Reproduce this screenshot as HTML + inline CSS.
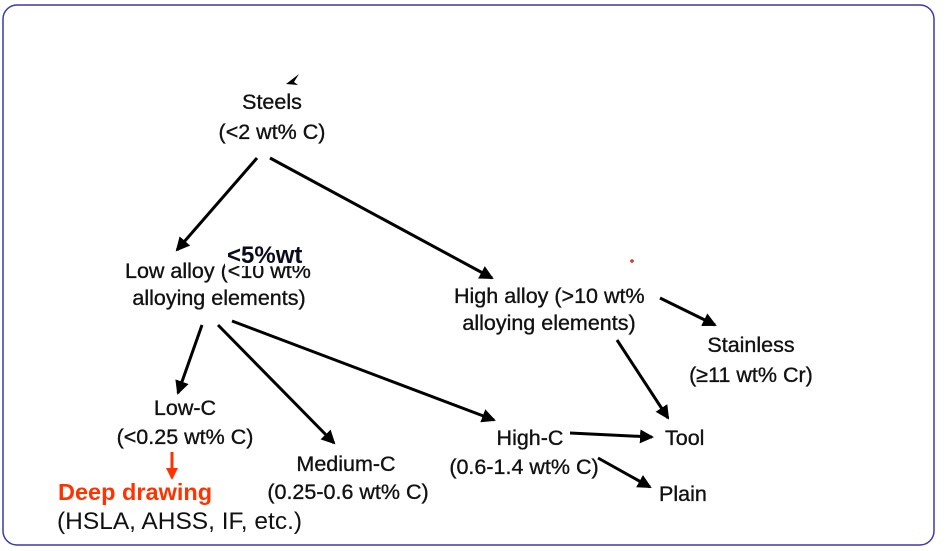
<!DOCTYPE html>
<html><head><meta charset="utf-8"><style>
html,body{margin:0;padding:0;background:#fff;}
svg{display:block;}
text{font-family:"Liberation Sans",Arial,sans-serif;font-size:21.5px;fill:#111;stroke:#111;stroke-width:0.35;}
</style></head><body>
<svg width="949" height="551" viewBox="0 0 949 551" xmlns="http://www.w3.org/2000/svg">
<defs>
<marker id="a" markerWidth="14" markerHeight="14" refX="12" refY="7" orient="auto" markerUnits="userSpaceOnUse" viewBox="0 0 14 14">
<path d="M0,0 L14,7 L0,14 z" fill="#000"/></marker>
<marker id="r" markerWidth="12" markerHeight="12" refX="10" refY="6" orient="auto" markerUnits="userSpaceOnUse" viewBox="0 0 12 12">
<path d="M0,0 L12,6 L0,12 z" fill="#ff3300"/></marker>
</defs>
<rect x="3" y="5" width="931" height="540" rx="14" fill="none" stroke="#3a3aa8" stroke-width="1.5"/>
<g stroke="#000" stroke-width="3" fill="none" marker-end="url(#a)">
<line x1="257" y1="158" x2="177" y2="250"/>
<line x1="270" y1="158" x2="492" y2="278"/>
<line x1="660" y1="298" x2="715" y2="325"/>
<line x1="617" y1="340" x2="668" y2="418"/>
<line x1="202" y1="325" x2="178" y2="393"/>
<line x1="218" y1="325" x2="334" y2="443"/>
<line x1="232" y1="321" x2="494" y2="420"/>
<line x1="570" y1="433" x2="652" y2="437"/>
<line x1="598" y1="458" x2="650" y2="487"/>
</g>
<path d="M286,84 L299,74 L294,82 L298,85 z" fill="#000"/>
<line x1="172" y1="452" x2="172" y2="478" stroke="#ff3300" stroke-width="3" marker-end="url(#r)"/>
<circle cx="632" cy="261" r="1.8" fill="#c33"/>
<g text-anchor="middle">
<text x="272" y="109">Steels</text>
<text x="272" y="139">(&lt;2 wt% C)</text>
<text x="219" y="305">alloying elements)</text>
<text x="549" y="330">alloying elements)</text>
<text x="751" y="352">Stainless</text>
<text x="751" y="382">(≥11 wt% Cr)</text>
<text x="185" y="415">Low-C</text>
<text x="185" y="444">(&lt;0.25 wt% C)</text>
<text x="346" y="471">Medium-C</text>
<text x="348" y="499">(0.25-0.6 wt% C)</text>
<text x="530" y="445">High-C</text>
<text x="524" y="474">(0.6-1.4 wt% C)</text>
</g>
<text x="125" y="278">Low alloy (&lt;10 wt%</text>
<rect x="225" y="241" width="84" height="25" fill="#fff"/>
<text x="227" y="263" style="font-weight:bold;fill:#0a0a20;stroke:none;font-size:24px">&lt;5%wt</text>
<text x="454" y="303">High alloy (&gt;10 wt%</text>
<text x="665" y="445">Tool</text>
<text x="659" y="501">Plain</text>
<text x="58" y="500" style="font-weight:bold;fill:#ff3300;stroke:none;font-size:23.5px">Deep drawing</text>
<text x="57" y="529" style="font-size:24.5px;stroke:none">(HSLA, AHSS, IF, etc.)</text>
</svg>
</body></html>
